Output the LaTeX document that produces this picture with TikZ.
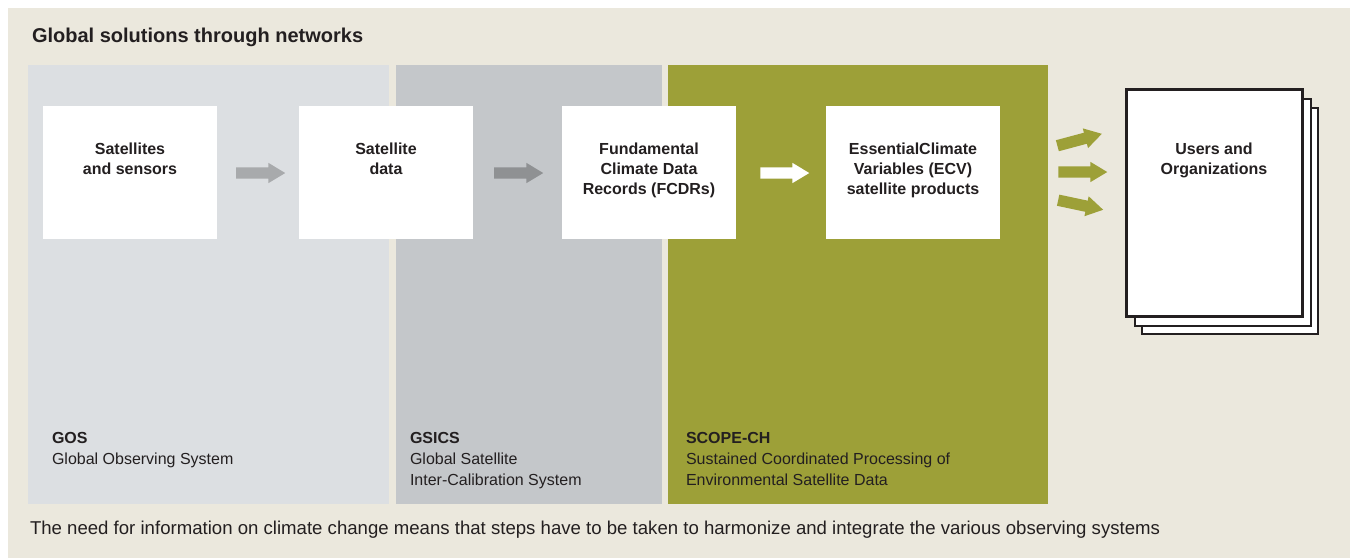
\documentclass[tikz,border=0pt]{standalone}
\usepackage{fontspec}
\setmainfont{Liberation Sans}
\usetikzlibrary{shapes.arrows}

\definecolor{paper}{HTML}{EBE8DD}
\definecolor{gosfill}{HTML}{DCDFE2}
\definecolor{gsicsfill}{HTML}{C4C7CA}
\definecolor{olive}{HTML}{9DA038}
\definecolor{arrowlight}{HTML}{A8AAAC}
\definecolor{arrowdark}{HTML}{8F9193}
\definecolor{ink}{HTML}{231F20}

\begin{document}
\begin{tikzpicture}[x=1pt,y=-1pt,
  every node/.style={text=ink, inner sep=0pt, outer sep=0pt},
  panel/.style={anchor=north west, minimum height=439pt},
  whitebox/.style={anchor=north west, fill=white, minimum width=174pt, minimum height=133pt},
  boxtext/.style={anchor=north, align=center, font=\bfseries\fontsize{16}{20}\selectfont},
  paneltext/.style={anchor=north west, align=left, font=\fontsize{16}{21}\selectfont},
  blockarrow/.style={single arrow, minimum height=49pt, minimum width=20pt,
    inner xsep=0pt, inner ysep=5.5pt, single arrow head extend=4.5pt,
    single arrow tip angle=62, draw=none},
  sheet/.style={draw=ink, fill=white, line width=1.2pt}
]
\useasboundingbox (0,0) rectangle (1350,558);
\fill[white] (0,0) rectangle (1350,558);
\fill[paper] (8,8) rectangle (1350,558);

% heading
\node[anchor=base west, font=\bfseries\fontsize{20}{24}\selectfont] (title) at (32,42)
  {Global solutions through networks};

% the three network panels
\node[panel, fill=gosfill, minimum width=361pt] (gos) at (28,65) {};
\node[panel, fill=gsicsfill, minimum width=266pt] (gsics) at (396,65) {};
\node[panel, fill=olive, minimum width=380pt] (scope) at (668,65) {};

% processing stages
\node[whitebox] (sat) at (43,106) {};
\node[whitebox] (data) at (299,106) {};
\node[whitebox] (fcdr) at (562,106) {};
\node[whitebox] (ecv) at (826,106) {};

\node[boxtext] (sattxt) at ([yshift=-37pt]sat.north) {Satellites\\and sensors};
\node[boxtext] (datatxt) at ([yshift=-37pt]data.north) {Satellite\\data};
\node[boxtext] (fcdrtxt) at ([yshift=-37pt]fcdr.north) {Fundamental\\Climate Data\\Records (FCDRs)};
\node[boxtext] (ecvtxt) at ([yshift=-37pt]ecv.north) {EssentialClimate\\Variables (ECV)\\satellite products};

% flow arrows between stages
\node[blockarrow, fill=arrowlight] (a1) at (256,173) {};
\node[blockarrow, fill=arrowdark] (a2) at (514,173) {};
\node[blockarrow, fill=white] (a3) at (780,173) {};

% arrows fanning out to the users
\node[blockarrow, fill=olive, minimum height=46pt, rotate=15] (o1) at (1075,141) {};
\node[blockarrow, fill=olive] (o2) at (1078,172) {};
\node[blockarrow, fill=olive, minimum height=46pt, rotate=-12] (o3) at (1076,204) {};

% stacked sheets for users and organizations
\node[sheet, anchor=north west, minimum width=176pt, minimum height=226pt] (sheet3) at (1142,108) {};
\node[sheet, anchor=north west, minimum width=176pt, minimum height=227pt] (sheet2) at (1135,99) {};
\node[sheet, anchor=north west, line width=3pt, minimum width=176pt, minimum height=227pt] (users) at (1126,89) {};
\node[boxtext] (userstxt) at ([yshift=-54pt]users.north) {Users and\\Organizations};

% panel captions
\node[paneltext] (gostxt) at (52,432) {\textbf{GOS}\\Global Observing System};
\node[paneltext] (gsicstxt) at (410,432) {\textbf{GSICS}\\Global Satellite\\Inter-Calibration System};
\node[paneltext] (scopetxt) at (686,432) {\textbf{SCOPE-CH}\\Sustained Coordinated Processing of\\Environmental Satellite Data};

% footnote
\node[anchor=base west, font=\fontsize{18.6}{22}\selectfont] (note) at (30,534)
  {The need for information on climate change means that steps have to be taken to harmonize and integrate the various observing systems};
\end{tikzpicture}
\end{document}
